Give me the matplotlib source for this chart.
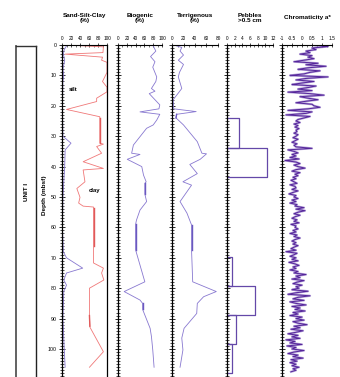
import matplotlib
matplotlib.use("Agg")
import matplotlib.pyplot as plt
from matplotlib.ticker import MultipleLocator
from matplotlib.lines import Line2D
import numpy as np

plt.rcParams['font.family'] = ['Liberation Sans', 'DejaVu Sans']

# ---------------- data ----------------
# Sand-Silt-Clay panel: sand (%) and sand+silt cumulative (%)
sand_depth = [0.3, 1.5, 3, 5, 8, 10, 12, 20, 30, 32.3, 34.5, 40, 45, 50, 60, 68, 70, 73.4, 75, 77.3, 79, 81, 90, 100, 106]
sand_val = [10, 5, 3, 6, 2, 4, 2, 1, 2, 20, 7, 6, 4, 2, 1, 3, 10, 46, 10, 4, 10, 4, 2, 5, 7]

silt_depth = [0.2, 0.6, 2.5, 3.0, 4.0, 5.0, 5.7, 9.0, 12.0, 13.9, 15.4, 17.5, 18.6, 21.2, 23.6, 32.3,
              32.6, 33.4, 35.6, 38.4, 40.6, 41.1, 45.0, 47.2, 50.1, 52.0, 53.0, 53.3, 71.7, 73.4, 75.0,
              77.3, 80.0, 89.0, 92.8, 100.9, 106.0]
silt_val = [36, 92, 91, 7, 90, 88, 100, 100, 90, 100, 100, 77, 77, 10, 84, 84,
            92, 77, 88, 47, 92, 47, 51, 33, 40, 37, 47, 70, 70, 92, 88,
            93, 61, 61, 62, 92, 61]

bio_depth = [0.3, 2, 3.8, 5.5, 7.3, 10.5, 12, 14.3, 15.2, 16, 19.7, 21, 22, 22.8, 24.7, 26.3, 27.4,
             32.9, 35.6, 36.0, 37.6, 40, 42.8, 45, 45.5, 49, 51.5, 54.3, 57.6, 59, 67.4, 77.9,
             81.1, 83.9, 85, 87, 93.2, 95.9, 100.3, 106]
bio_val = [80, 86, 74, 84, 79, 88, 86, 76, 84, 71, 95, 93, 50, 95, 88, 80, 65,
           35, 31, 50, 21, 54, 58, 64, 61, 61, 65, 50, 42, 40, 40, 61,
           14, 50, 56, 56, 73, 76, 79, 82]

ter_depth = [0.3, 0.8, 2.0, 3.3, 5.0, 6.4, 9.0, 10.5, 14.3, 15.8, 18, 21, 21.9, 22.8, 24, 24.7, 26.3,
             31.8, 35.6, 35.8, 37.6, 39.3, 42.3, 45, 46.1, 51.5, 55.3, 59.2, 67.4, 77.9, 81.1,
             82.8, 85, 88.3, 93.2, 96.4, 100.3, 106]
ter_val = [8, 17, 14, 20, 11, 20, 13, 11, 17, 11, 2, 3, 42, 8, 7, 11, 20,
           44, 52, 60, 49, 31, 44, 19, 34, 14, 26, 34, 34, 36, 77,
           55, 44, 43, 21, 17, 19, 14]

peb_top = [24.1, 33.9, 69.6, 79.3, 88.8, 98.3]
peb_bottom = [33.9, 43.3, 79.3, 88.8, 98.3, 108.0]
peb_count = [3.2, 10.4, 1.2, 7.3, 2.3, 1.2]

chroma_start = 0.0
chroma_step = 0.5
chroma_val = [
    0.6, 1.3, 0.5, 0.7, 0.2, 0.4, -0.1, 0.5, 0.3, 0.6,
    0.1, -0.4, 0.8, 0.2, 1.2, 0.3, -0.2, 0.9, 0.4, 0.1,
    -0.6, 1.3, 0.2, -0.3, 0.6, 0.0, -0.5, 0.7, 0.3, -0.2,
    0.5, -0.7, 0.4, 1.1, -0.1, 0.3, 0.8, 0.2, -0.3, 0.5,
    0.6, 0.9, 0.3, -0.7, 0.5, 0.2, -0.8, 0.4, 0.1, -0.2,
    -0.3, -0.1, -0.4, -0.2, -0.35, -0.15, -0.3, -0.25, -0.4, -0.2,
    -0.3, -0.45, -0.2, -0.35, -0.5, -0.25, -0.4, -0.3, 0.5, -0.7,
    -0.4, -0.2, -0.5, -0.3, -0.6, -0.15, -0.85, -0.3, -0.1, -0.4,
    -0.2, 0.15, -0.3, -0.5, -0.1, -0.35, -0.2, -0.45, -0.3, -0.55,
    -0.4, -0.25, -0.6, -0.35, -0.3, -0.5, -0.2, -0.45, -0.65, -0.3,
    -0.4, -0.2, -0.5, -0.3, -0.6, -0.25, -0.35, 0.1, -0.3, 0.15,
    -0.2, -0.4, -0.1, -0.35, -0.5, -0.25, -0.4, -0.15, -0.55, -0.3,
    -0.35, -0.2, -0.45, -0.3, -0.6, -0.25, -0.4, -0.1, -0.35, -0.5,
    -0.3, -0.45, -0.2, -0.4, -0.55, -0.3, -0.8, -0.25, -0.4, -0.6,
    -0.3, -0.5, -0.2, -0.65, -0.35, -0.15, -0.45, -0.3, -0.6, -0.2,
    -0.4, 0.2, -0.3, -0.1, -0.5, 0.1, -0.25, -0.45, 0.0, -0.3,
    -0.15, -0.5, 0.3, -0.3, -0.7, 0.4, -0.2, -0.45, 0.1, -0.6,
    -0.3, 0.2, -0.5, -0.1, -0.35, 0.15, -0.45, -0.2, -0.6, 0.0,
    -0.3, 0.1, -0.45, -0.2, 0.25, -0.4, -0.1, -0.55, 0.05, -0.3,
    -0.7, -0.2, -0.5, -0.1, -0.8, -0.35, -0.6, 0.0, -0.75, -0.3,
    -0.5, 0.1, -0.4, -0.7, -0.2, -0.45, 0.05, -0.55, -0.25, -0.6,
    -0.3, -0.5, -0.15, -0.45, -0.3, -0.55,
]
chroma_depth = [chroma_start + i * chroma_step for i in range(len(chroma_val))]

titles = ["Sand-Silt-Clay\n(%)", "Biogenic\n(%)", "Terrigenous\n(%)", "Pebbles\n>0.5 cm", "Chromaticity a*"]
xticks = [[0, 20, 40, 60, 80, 100], [0, 20, 40, 60, 80, 100], [0, 20, 40, 60, 80],
          [0, 2, 4, 6, 8, 10, 12], [-1, -0.5, 0, 0.5, 1, 1.5]]
xticklabels = [["0", "20", "40", "60", "80", "100"], ["0", "20", "40", "60", "80", "100"],
               ["0", "20", "40", "60", "80"], ["0", "2", "4", "6", "8", "10", "12"],
               ["-1", "-0.5", "0", "0.5", "1", "1.5"]]
xlims = [(0, 100), (0, 100), (0, 80), (0, 12), (-1, 1.5)]
depth_ticks = [0, 10, 20, 30, 40, 50, 60, 70, 80, 90, 100]

# ---------------- figure ----------------
W, H = 340, 377
fig = plt.figure(figsize=(W / 100, H / 100), dpi=100)

def px_axes(x0, x1, ytop=45, ybot=377):
    return fig.add_axes([x0 / W, 1 - ybot / H, (x1 - x0) / W, (ybot - ytop) / H])

panels_px = [(62, 107), (118, 162), (172, 218), (227, 273), (282, 332)]
axes = [px_axes(a, b) for a, b in panels_px]
ymax = (377 - 45) / 3.04

for i, ax in enumerate(axes):
    ax.set_ylim(ymax, 0)
    ax.set_xlim(*xlims[i])
    ax.patch.set_alpha(0)
    ax.xaxis.tick_top()
    ax.set_xticks(xticks[i])
    ax.set_xticklabels(xticklabels[i])
    ax.xaxis.set_minor_locator(MultipleLocator((xticks[i][1] - xticks[i][0]) / 2))
    ax.tick_params(axis='x', which='major', direction='inout', length=3, width=0.5,
                   labelsize=3.4, pad=1.5, colors='black')
    ax.tick_params(axis='x', which='minor', direction='in', length=1.5, width=0.4)
    ax.set_yticks(depth_ticks)
    ax.yaxis.set_minor_locator(MultipleLocator(1))
    ax.tick_params(axis='y', which='major', direction='inout', length=4, width=0.6,
                   labelsize=3.8, pad=2)
    ax.tick_params(axis='y', which='minor', direction='inout', length=2.5, width=0.5)
    for s in ['bottom', 'right']:
        ax.spines[s].set_visible(False)
    ax.spines['left'].set_linewidth(0.9)
    ax.spines['top'].set_linewidth(0.8)
    if i > 0:
        ax.tick_params(axis='y', labelleft=False)
    cx = (panels_px[i][0] + panels_px[i][1]) / 2 / W
    fig.text(cx, 1 - 18 / H, titles[i], ha='center', va='center', fontsize=4.6,
             fontweight='bold', linespacing=1.05)

ax1, ax2, ax3, ax4, ax5 = axes
ax1.spines['right'].set_visible(True)
ax1.spines['right'].set_linewidth(0.9)


def overlay(ax, vals, depths, d0, d1, color):
    dd = np.linspace(d0, d1, 20)
    vv = np.interp(dd, depths, vals)
    ax.plot(vv, dd, color=color, lw=1.0)


line_purple = '#8878d0'
dark_purple = '#6a58c0'
ax1.plot(sand_val, sand_depth, color=line_purple, lw=0.6)
ax1.plot(silt_val, silt_depth, color='#f07878', lw=0.6)
for d0, d1 in [(24, 32.3), (53.5, 66), (89, 92.5)]:
    overlay(ax1, silt_val, silt_depth, d0, d1, '#e05a5a')
ax1.text(24, 14.8, 'silt', fontsize=4.3, fontweight='bold', ha='center', va='center')
ax1.text(73, 48, 'clay', fontsize=4.3, fontweight='bold', ha='center', va='center')

ax2.plot(bio_val, bio_depth, color=line_purple, lw=0.6)
for d0, d1 in [(45.5, 49), (59, 67.4), (85, 87)]:
    overlay(ax2, bio_val, bio_depth, d0, d1, dark_purple)
ax3.plot(ter_val, ter_depth, color=line_purple, lw=0.6)
for d0, d1 in [(59.2, 67.4), (22.8, 24)]:
    overlay(ax3, ter_val, ter_depth, d0, d1, dark_purple)

for t, b, v in zip(peb_top, peb_bottom, peb_count):
    ax4.plot([0, v, v, 0], [t, t, b, b], color='#6448a8', lw=0.9)

ax5.plot(chroma_val, chroma_depth, color='#9a80cc', lw=1.6, alpha=0.7)
ax5.plot(chroma_val, chroma_depth, color='#55259a', lw=0.7)

# unit column
fig.add_artist(Line2D([16 / W, 16 / W], [0, 1 - 46 / H], transform=fig.transFigure,
                      color='#555555', lw=1.3))
fig.add_artist(Line2D([36 / W, 36 / W], [0, 1 - 46 / H], transform=fig.transFigure,
                      color='#222222', lw=1.0))
fig.add_artist(Line2D([16 / W, 36 / W], [1 - 46 / H, 1 - 46 / H], transform=fig.transFigure,
                      color='#333333', lw=1.0))
fig.text(27 / W, 1 - 192 / H, 'UNIT I', rotation=90, ha='center', va='center',
         fontsize=4.6, fontweight='bold')
fig.text(44 / W, 1 - 195 / H, 'Depth (mbsf)', rotation=90, ha='center', va='center',
         fontsize=4.6, fontweight='bold')

fig.savefig('out.png', dpi=100)
